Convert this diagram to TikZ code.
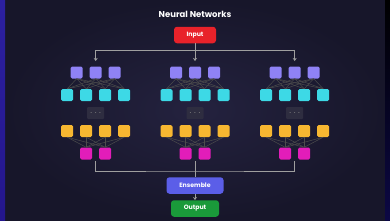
\documentclass[tikz,border=0pt]{standalone}
\usepackage{fontspec}
\setmainfont{Poppins}
\usetikzlibrary{arrows.meta}
\usetikzlibrary{calc}
\definecolor{bgdark}{HTML}{17162A}
\definecolor{bgglow}{HTML}{24223F}
\definecolor{striptop}{HTML}{2C20A0}
\definecolor{stripmid}{HTML}{0C0845}
\definecolor{stripbot}{HTML}{24168C}
\definecolor{nnred}{HTML}{E8222A}
\definecolor{nnpurple}{HTML}{8F82F5}
\definecolor{nncyan}{HTML}{3DD9E6}
\definecolor{nnorange}{HTML}{F7B731}
\definecolor{nnmagenta}{HTML}{E21DB9}
\definecolor{nnblue}{HTML}{5B5EE8}
\definecolor{nngreen}{HTML}{1A9A3A}
\definecolor{dotfill}{HTML}{2E2D40}
\colorlet{edgegray}{gray!60!black}
\colorlet{flowgray}{gray!75!white}

\begin{document}
\begin{tikzpicture}[x=1pt,y=-1pt,
    neuron/.style={rectangle, rounded corners=1.5pt, minimum size=12pt, inner sep=0pt},
    block/.style={rectangle, rounded corners=3pt, text=white, inner sep=0pt,
        minimum height=16.5pt, font=\fontsize{6.2}{7}\selectfont\bfseries},
    dotbox/.style={rectangle, rounded corners=1pt, fill=dotfill, minimum width=17pt,
        minimum height=12pt, inner sep=0pt, text=gray},
    link/.style={draw=edgegray, line width=0.5pt},
    flow/.style={draw=flowgray, line width=0.9pt},
    arr/.style={flow, -{Stealth[length=3pt,width=4pt]}}]
        \useasboundingbox (0,0) rectangle (390,220);
        % background
        \fill[bgdark] (0,0) rectangle (390,220);
        \shade[inner color=bgglow, outer color=bgdark] (5,0) rectangle (385,220);
        \shade[top color=striptop, middle color=stripmid, bottom color=stripbot] (0,0) rectangle (5,220);
        \shade[top color=black, bottom color=stripmid] (385,0) rectangle (390,220);

        \node[text=white, font=\fontsize{8.5}{10}\selectfont\bfseries] (title) at (195,14.5) {Neural Networks};
        \node[block, fill=nnred, minimum width=42pt] (input) at (195,35) {Input};
        \node[block, fill=nnblue, minimum width=57pt] (ensemble) at (195,185.5) {Ensemble};
        \node[block, fill=nngreen, minimum width=48pt] (output) at (195,208.5) {Output};

        % three networks
        \foreach \c/\x in {1/95.7, 2/195, 3/294.7}
        {
            \foreach \i/\dx in {1/-19, 2/0, 3/19}
            {
                \node[neuron, fill=nnpurple] (p\c-\i) at (\x+\dx,72.5) {};
            }
            \foreach \i/\dx in {1/-28.5, 2/-9.5, 3/9.5, 4/28.5}
            {
                \node[neuron, fill=nncyan] (h\c-\i) at (\x+\dx,95) {};
                \node[neuron, fill=nnorange] (o\c-\i) at (\x+\dx,131) {};
            }
            \foreach \i/\dx in {1/-9.5, 2/9.5}
            {
                \node[neuron, fill=nnmagenta] (m\c-\i) at (\x+\dx,153.5) {};
            }
            \node[dotbox] (d\c) at (\x,113) {$\cdots$};
            \foreach \a in {1,2,3}
                \foreach \b in {1,...,4}
                    \draw[link] (p\c-\a.south) -- (h\c-\b.north);
            \foreach \a in {1,...,4}
                \foreach \b in {1,2}
                    \draw[link] (o\c-\a.south) -- (m\c-\b.north);
            \coordinate (top\c) at (\x,61);
            \coordinate (bot\c) at (\x,161);
        }

        % split and merge
        \coordinate (split) at (195,50);
        \coordinate (merge) at (195,171);
        \draw[arr] (input.south) -- (split) -| (top1);
        \draw[arr] (split) -| (top3);
        \draw[arr] (split) -- (top2);
        \draw[flow] (bot1) |- (merge) -| (bot3);
        \draw[flow] (bot2) -- (ensemble.north);
        \draw[arr] (ensemble.south) -- (output.north);
    \end{tikzpicture}
\end{document}
